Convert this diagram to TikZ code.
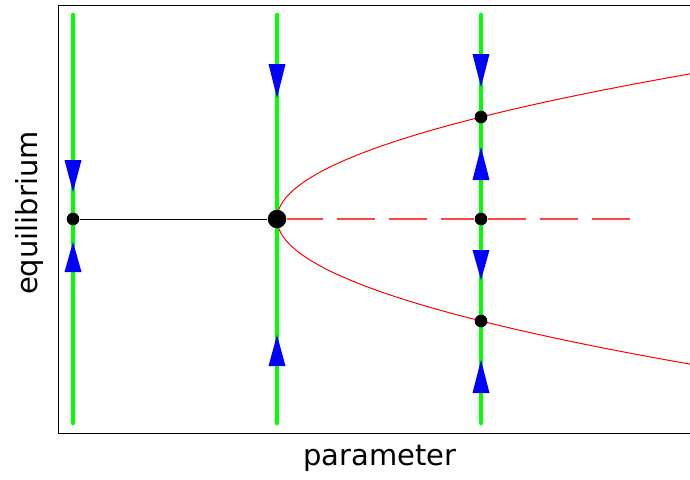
\documentclass[tikz,border=0pt]{standalone}
\usepackage{fontspec}
\setmainfont{DejaVu Sans}
\definecolor{flowgreen}{RGB}{0,255,0}
\definecolor{branchred}{RGB}{255,0,0}
\definecolor{dashred}{RGB}{255,70,70}
\begin{document}
\begin{tikzpicture}[x=1pt, y=-1pt, thick,
		dot/.style={circle, fill=black, inner sep=0pt, minimum size=12.6pt},
		bigdot/.style={circle, fill=black, inner sep=0pt, minimum size=18.5pt},
		flow/.style={draw=flowgreen, line width=4.5pt, line cap=round},
		unstable/.style={draw=dashred, line width=1.5pt, dash pattern=on 38pt off 14pt},
		axislabel/.style={font=\fontsize{29}{34}\selectfont}]
	\useasboundingbox (0,0) rectangle (690,479);
	\clip (0,0) rectangle (690,479);
	
	% 1. 坐标框与轴标签
	\draw[line width=0.8pt] (58,5) rectangle (702,433);
	\node[axislabel] (xlab) at (380,458) {parameter};
	\node[axislabel, rotate=90] (ylab) at (29,213) {equilibrium};
	
	% 2. 相线 (绿色)
	\foreach \x in {73,277,481}
		\draw[flow] (\x,15) -- (\x,423);
	
	% 3. 流向箭头 (蓝色三角)
	\foreach \x/\b/\e in {73/160/192, 73/272/242, 277/64/98, 277/366/335,
			481/54/87, 481/180/147, 481/250/280, 481/393/360}
		\fill[blue] (\x-8.5,\b) -- (\x+8.5,\b) -- (\x,\e) -- cycle;
	
	% 4. 稳定分支 (抛物线)
	\draw[draw=branchred, line width=1pt, domain=-21:21, samples=120, smooth, variable=\s]
		plot ({277+\s*\s}, {219+7.14*\s});
	
	% 5. 平衡点
	\node[dot] (e1) at (73,219) {};
	\node[bigdot] (e2) at (277,219) {};
	\node[dot] (e3) at (481,117) {};
	\node[dot] (e4) at (481,219) {};
	\node[dot] (e5) at (481,321) {};
	\coordinate (dend) at (632,219);
	
	\draw[line width=1pt] (e1) -- (e2);
	\draw[unstable, dash phase=2pt] (e2) -- (e4);
	\draw[unstable] (e4) -- (dend);
\end{tikzpicture}
\end{document}
